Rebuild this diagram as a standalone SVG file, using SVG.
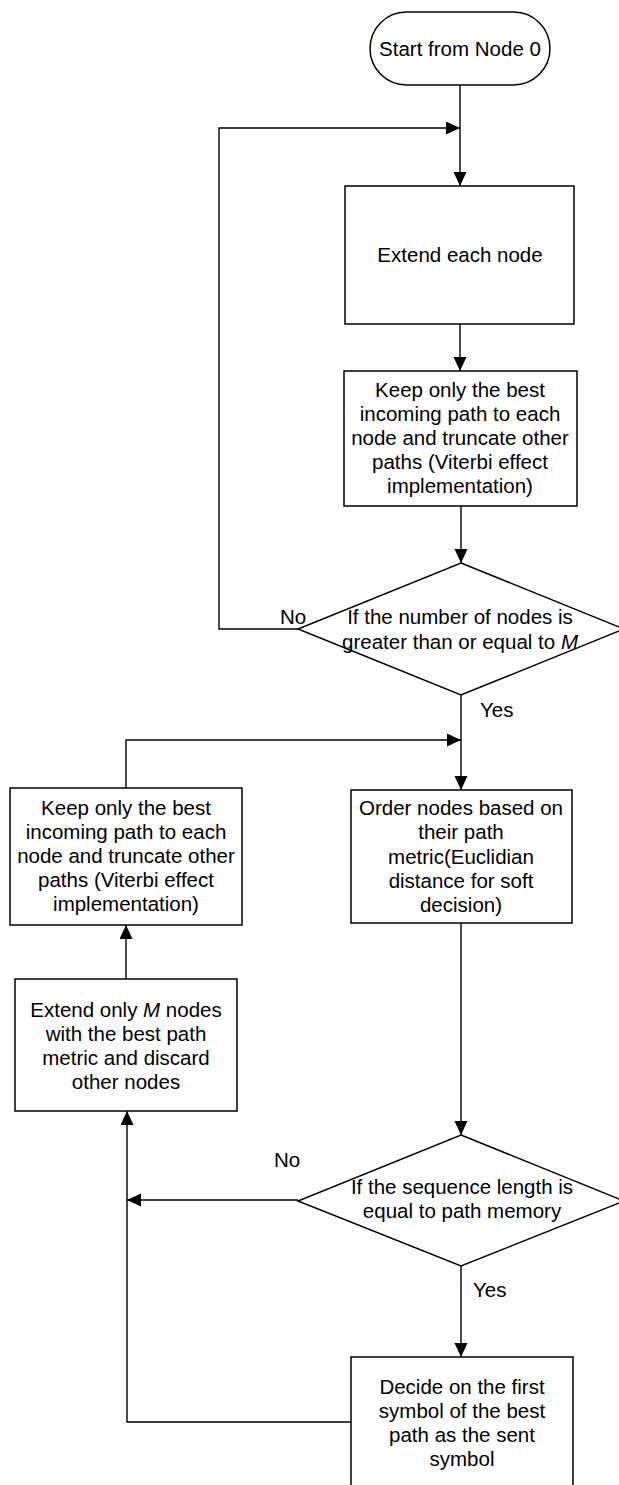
<svg xmlns="http://www.w3.org/2000/svg" width="619" height="1485" viewBox="0 0 619 1485">
<style>
.box{fill:#fff;stroke:#000;stroke-width:1.5}
.conn{fill:none;stroke:#000;stroke-width:1.4}
text{font-family:"Liberation Sans",Arial,sans-serif;font-size:20.5px;fill:#000}
.c{text-anchor:middle}
</style>
<defs>
<marker id="arr" markerUnits="userSpaceOnUse" markerWidth="15" markerHeight="14" refX="14" refY="6.5" orient="auto">
<path d="M0,0 L14,6.5 L0,13 Z" fill="#000"/>
</marker>
</defs>
<rect width="619" height="1485" fill="#fff"/>
<g id="connectors">
<line class="conn" x1="460" y1="85" x2="460" y2="186" marker-end="url(#arr)"/>
<path class="conn" d="M298,629 H219 V128 H460" marker-end="url(#arr)"/>
<line class="conn" x1="460" y1="324" x2="460" y2="371" marker-end="url(#arr)"/>
<line class="conn" x1="461" y1="506" x2="461" y2="563" marker-end="url(#arr)"/>
<line class="conn" x1="461" y1="695" x2="461" y2="790" marker-end="url(#arr)"/>
<path class="conn" d="M126,788 V740 H461" marker-end="url(#arr)"/>
<line class="conn" x1="461" y1="923" x2="461" y2="1135" marker-end="url(#arr)"/>
<line class="conn" x1="298" y1="1200" x2="127" y2="1200" marker-end="url(#arr)"/>
<path class="conn" d="M351,1422 H127 V1111" marker-end="url(#arr)"/>
<line class="conn" x1="126" y1="979" x2="126" y2="925" marker-end="url(#arr)"/>
<line class="conn" x1="461" y1="1266" x2="461" y2="1357" marker-end="url(#arr)"/>
</g>
<g id="start">
<rect class="box" x="370" y="12" width="180" height="73" rx="36.5" ry="36.5"/>
<text class="c" x="460" y="56">Start from Node 0</text>
</g>
<g id="extend-each">
<rect class="box" x="345" y="186" width="229" height="138"/>
<text class="c" x="460" y="262">Extend each node</text>
</g>
<g id="keep-best-1">
<rect class="box" x="344" y="371" width="233" height="135"/>
<text class="c" x="460" y="397">Keep only the best</text>
<text class="c" x="460" y="421">incoming path to each</text>
<text class="c" x="460" y="445">node and truncate other</text>
<text class="c" x="460" y="469">paths (Viterbi effect</text>
<text class="c" x="460" y="493">implementation)</text>
</g>
<g id="decision-nodes">
<polygon class="box" points="461,563 624,629 461,695 298,629"/>
<text class="c" x="460" y="624">If the number of nodes is</text>
<text class="c" x="460" y="649">greater than or equal to <tspan font-style="italic">M</tspan></text>
<text x="280" y="624">No</text>
<text x="480" y="717">Yes</text>
</g>
<g id="keep-best-2">
<rect class="box" x="10" y="788" width="232" height="137"/>
<text class="c" x="126" y="815">Keep only the best</text>
<text class="c" x="126" y="839">incoming path to each</text>
<text class="c" x="126" y="863">node and truncate other</text>
<text class="c" x="126" y="887">paths (Viterbi effect</text>
<text class="c" x="126" y="911">implementation)</text>
</g>
<g id="order-nodes">
<rect class="box" x="351" y="790" width="221" height="133"/>
<text class="c" x="461" y="815">Order nodes based on</text>
<text class="c" x="461" y="839">their path</text>
<text class="c" x="461" y="864">metric(Euclidian</text>
<text class="c" x="461" y="888">distance for soft</text>
<text class="c" x="461" y="912">decision)</text>
</g>
<g id="extend-m">
<rect class="box" x="15" y="979" width="222" height="132"/>
<text class="c" x="126" y="1017">Extend only <tspan font-style="italic">M</tspan> nodes</text>
<text class="c" x="126" y="1041">with the best path</text>
<text class="c" x="126" y="1065">metric and discard</text>
<text class="c" x="126" y="1089">other nodes</text>
</g>
<g id="decision-length">
<polygon class="box" points="461,1135 624,1201 461,1266 298,1201"/>
<text class="c" x="462" y="1194">If the sequence length is</text>
<text class="c" x="462" y="1218">equal to path memory</text>
<text x="274" y="1167">No</text>
<text x="473" y="1297">Yes</text>
</g>
<g id="decide">
<rect class="box" x="351" y="1357" width="222" height="140"/>
<text class="c" x="462" y="1394">Decide on the first</text>
<text class="c" x="462" y="1418">symbol of the best</text>
<text class="c" x="462" y="1442">path as the sent</text>
<text class="c" x="462" y="1466">symbol</text>
</g>
</svg>
